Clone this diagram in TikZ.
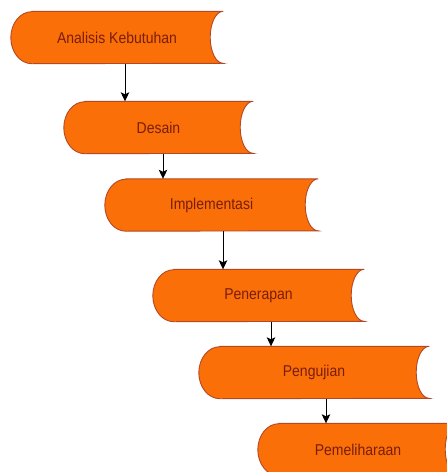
\documentclass[tikz,border=0pt]{standalone}
\usepackage{fontspec}
\setmainfont{Liberation Sans}
\usetikzlibrary{arrows.meta,backgrounds,calc}
\definecolor{boxfill}{RGB}{250,111,8}
\definecolor{boxline}{RGB}{180,72,36}
\definecolor{txt}{RGB}{120,30,10}
\newcommand\vs[1]{\scalebox{1}[1.12]{#1}}
\newcommand\storeddata[1]{%
  \fill[boxfill,draw=boxline,line width=0.9pt]
    ($(#1.north west)+(21pt,0)$) -- (#1.north east)
    arc[start angle=90,end angle=270,x radius=13pt,y radius=26pt]
    -- ($(#1.south west)+(21pt,0)$)
    arc[start angle=-90,end angle=-270,x radius=21pt,y radius=26pt] -- cycle;}
\begin{document}
\begin{tikzpicture}[x=1pt,y=-1pt,
  box/.style={minimum width=#1,minimum height=52pt,inner sep=0pt,text=txt,
    font=\fontsize{14}{16}\selectfont},
  arr/.style={draw=black,line width=0.9pt,-{Stealth[length=9pt,width=8.5pt,inset=2pt]}}]
\useasboundingbox (0,0) rectangle (447,472);
\node[box=212pt] (b1) at (117,37.5) {\vs{Analisis Kebutuhan}};
\node[box=189pt] (b2) at (158.5,127.5) {\vs{Desain}};
\node[box=213pt] (b3) at (211.5,205) {\vs{Implementasi}};
\node[box=211pt] (b4) at (258.5,295.5) {\vs{Penerapan}};
\node[box=230pt] (b5) at (314,372.5) {\vs{Pengujian}};
\node[box=200pt] (b6) at (358,449.5) {\vs{Pemeliharaan}};
\begin{scope}[on background layer]
\storeddata{b1}\storeddata{b2}\storeddata{b3}\storeddata{b4}\storeddata{b5}\storeddata{b6}
\end{scope}
\coordinate (x1) at (125,0);
\coordinate (x2) at (163,0);
\coordinate (x3) at (223,0);
\coordinate (x4) at (271,0);
\coordinate (x5) at (326,0);
\draw[arr] (b1.south -| x1) -- (b2.north -| x1);
\draw[arr] (b2.south -| x2) -- (b3.north -| x2);
\draw[arr] (b3.south -| x3) -- (b4.north -| x3);
\draw[arr] (b4.south -| x4) -- (b5.north -| x4);
\draw[arr] (b5.south -| x5) -- (b6.north -| x5);
\end{tikzpicture}
\end{document}
